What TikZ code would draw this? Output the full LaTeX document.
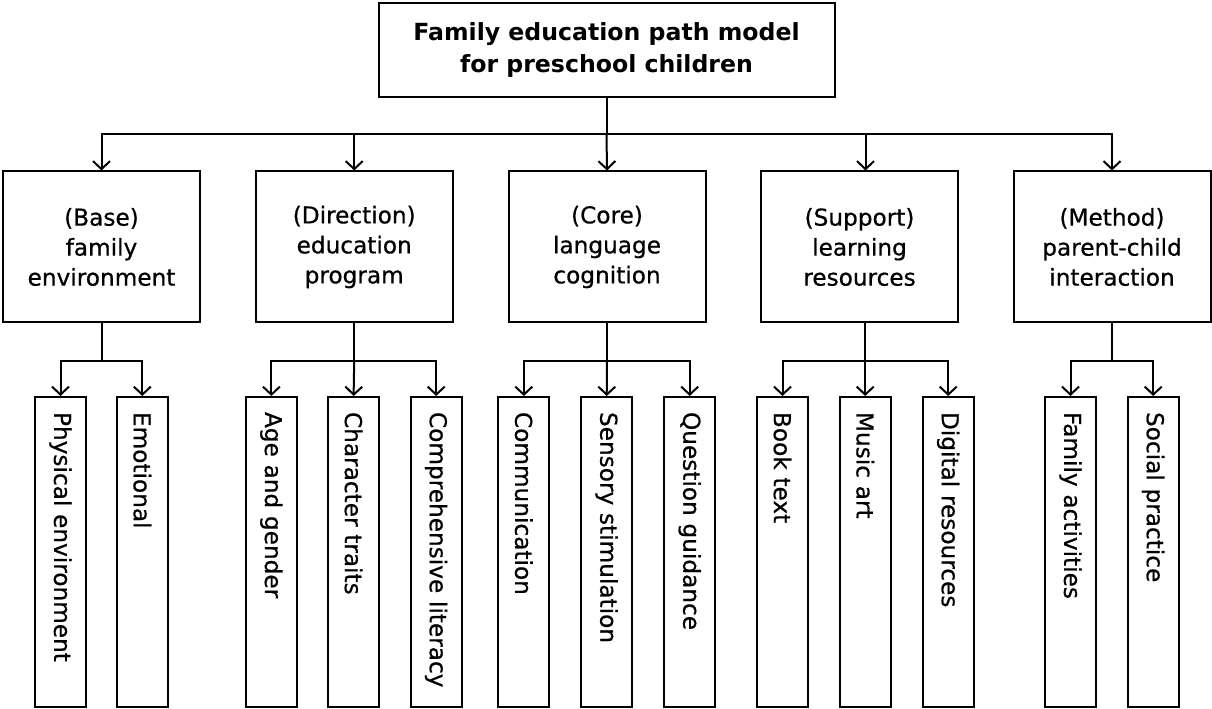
\documentclass[tikz,border=0pt]{standalone}
\usepackage{fontspec}
\setmainfont{DejaVu Sans}[UprightFeatures={FakeBold=0.6}]
\usetikzlibrary{arrows.meta}
\begin{document}
\begin{tikzpicture}[x=1pt,y=1pt,
 ln/.style={line width=2pt},
 box/.style={draw, line width=2pt, align=center, inner sep=0pt},
 mid/.style={box, minimum width=197pt, minimum height=151pt, font=\fontsize{23.2}{30}\selectfont},
 leaf/.style={draw, line width=2pt, rotate=-90, minimum width=310pt, minimum height=51pt, text width=280pt, align=left, inner xsep=15pt, inner ysep=0pt, font=\fontsize{23.2}{28}\selectfont},
 arr/.style={line width=2pt, -{Straight Barb[length=8pt,width=17pt]}}]
\useasboundingbox (0,0) rectangle (1212,709);
\node[box, minimum width=456pt, minimum height=94pt, font=\bfseries\fontsize{23.6}{32}\selectfont] (top) at (606.5,659) {Family education path model\\for preschool children};
% level 2
\node[mid] (m1) at (101.5,462) {(Base)\\family\\environment};
\node[mid] (m2) at (354.2,462) {(Direction)\\education\\program};
\node[mid] (m3) at (607,462) {(Core)\\language\\cognition};
\node[mid] (m4) at (859.5,462) {(Support)\\learning\\resources};
\node[mid] (m5) at (1112,462) {(Method)\\parent-child\\interaction};
% level 3
\node[leaf] (l11) at (60.5,157) {Physical environment};
\node[leaf] (l12) at (142.3,157) {Emotional};
\node[leaf] (l21) at (271.4,157) {Age and gender};
\node[leaf] (l22) at (353.6,157) {Character traits};
\node[leaf] (l23) at (436.2,157) {Comprehensive literacy};
\node[leaf] (l31) at (523.8,157) {Communication};
\node[leaf] (l32) at (606.7,157) {Sensory stimulation};
\node[leaf] (l33) at (689.7,157) {Question guidance};
\node[leaf] (l41) at (782.5,157) {Book text};
\node[leaf] (l42) at (865.2,157) {Music art};
\node[leaf] (l43) at (948.2,157) {Digital resources};
\node[leaf] (l51) at (1070.5,157) {Family activities};
\node[leaf] (l52) at (1153.2,157) {Social practice};
% connectors level 1 -> 2
\coordinate (bus) at (606.5,575);
\draw[ln] (top.south) -- (bus);
\draw[arr] (bus) -| (m1.north);
\draw[arr] (bus) -| (m2.north);
\draw[arr] (bus) -- (m3.north);
\draw[arr] (bus) -| ([xshift=6pt]m4.north);
\draw[arr] (bus) -| (m5.north);
% connectors level 2 -> 3
\draw[ln] (m1.south) -- ++(0,-37.5) coordinate (b1);
\draw[arr] (b1) -| (l11.west);
\draw[arr] (b1) -| (l12.west);
\draw[ln] (m2.south) -- ++(0,-37.5) coordinate (b2);
\draw[arr] (b2) -| (l21.west);
\draw[arr] (b2) -- (l22.west);
\draw[arr] (b2) -| (l23.west);
\draw[ln] (m3.south) -- ++(0,-37.5) coordinate (b3);
\draw[arr] (b3) -| (l31.west);
\draw[arr] (b3) -- (l32.west);
\draw[arr] (b3) -| (l33.west);
\draw[ln] ([xshift=5.7pt]m4.south) -- ++(0,-37.5) coordinate (b4);
\draw[arr] (b4) -| (l41.west);
\draw[arr] (b4) -- (l42.west);
\draw[arr] (b4) -| (l43.west);
\draw[ln] (m5.south) -- ++(0,-37.5) coordinate (b5);
\draw[arr] (b5) -| (l51.west);
\draw[arr] (b5) -| (l52.west);
\end{tikzpicture}
\end{document}
